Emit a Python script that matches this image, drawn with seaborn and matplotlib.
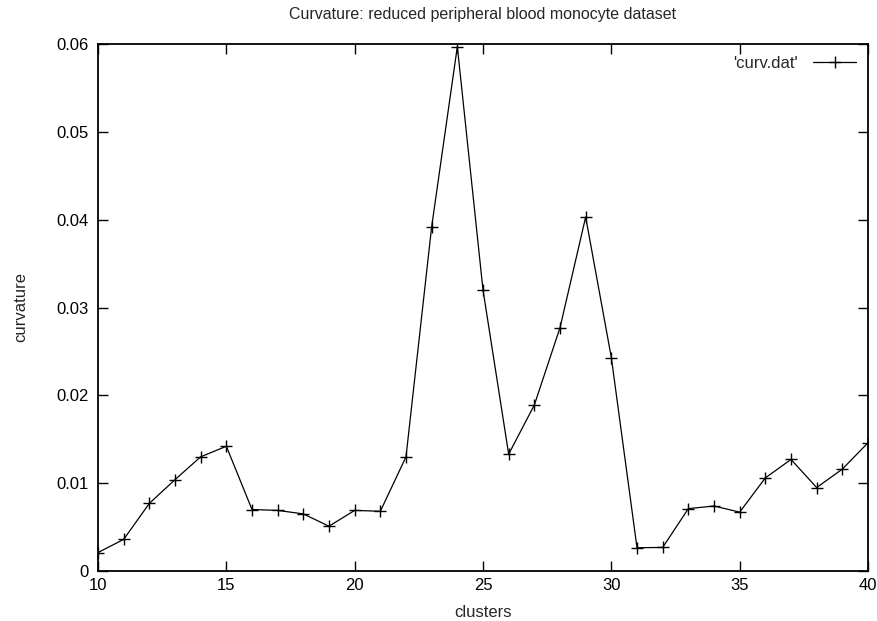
import matplotlib
matplotlib.use("Agg")
import matplotlib.pyplot as plt
import seaborn as sns
import pandas as pd

clusters = list(range(10, 41))
curvature = [0.0021, 0.0036, 0.0077, 0.0104, 0.0130, 0.0142, 0.0070, 0.0069,
             0.0065, 0.0051, 0.0069, 0.0068, 0.0130, 0.0392, 0.0597, 0.0320,
             0.0133, 0.0189, 0.0277, 0.0403, 0.0243, 0.00265, 0.00268, 0.0071,
             0.0074, 0.0067, 0.0106, 0.0127, 0.0095, 0.0116, 0.0146]
xticks = [10, 15, 20, 25, 30, 35, 40]
yticks = [0, 0.01, 0.02, 0.03, 0.04, 0.05, 0.06]
ytick_labels = ["0", "0.01", "0.02", "0.03", "0.04", "0.05", "0.06"]

df = pd.DataFrame({"clusters": clusters, "curvature": curvature})

sns.set_theme(style="white")
plt.rcParams['font.family'] = ['Liberation Sans', 'DejaVu Sans']

fig = plt.figure(figsize=(8.78, 6.21), dpi=100)
ax = fig.add_axes([98/878, 1-571/621, (868-98)/878, (571-44)/621])

sns.lineplot(data=df, x="clusters", y="curvature", ax=ax, color="black",
             linewidth=0.9, marker="+", markersize=8, markeredgewidth=1.0,
             markeredgecolor="black", markerfacecolor="black",
             label="'curv.dat'")

ax.set_xlim(10, 40)
ax.set_ylim(0, 0.06)
ax.set_xticks(xticks)
ax.set_xticklabels([str(t) for t in xticks])
ax.set_yticks(yticks)
ax.set_yticklabels(ytick_labels)
ax.tick_params(direction="in", length=7, width=1, top=True, right=True,
               bottom=True, left=True, labelsize=12, colors="black")
ax.tick_params(axis="x", pad=5)
ax.tick_params(axis="y", pad=7)
for s in ax.spines.values():
    s.set_visible(True)
    s.set_color("black")
    s.set_linewidth(1.3)

ax.set_xlabel("clusters", fontsize=12, labelpad=9)
ax.set_ylabel("curvature", fontsize=12, labelpad=20)
ax.set_title("Curvature: reduced peripheral blood monocyte dataset", fontsize=11.5, pad=18)

leg = ax.legend(loc="upper right", frameon=False, markerfirst=False,
                fontsize=12, handlelength=2.6, handletextpad=0.9,
                borderaxespad=0.3, borderpad=0.4)

fig.savefig("out.png", dpi=100)
